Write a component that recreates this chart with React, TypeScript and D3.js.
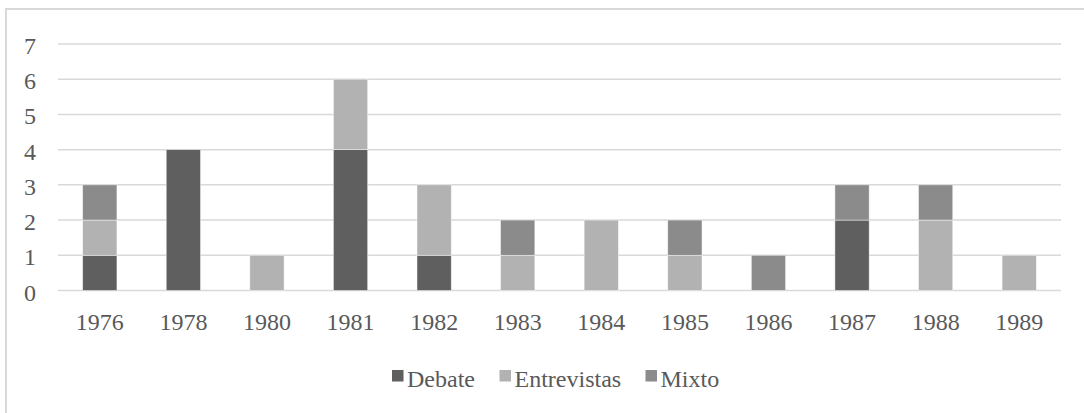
import React from "react";
import * as d3 from "d3";

const categories = ["1976", "1978", "1980", "1981", "1982", "1983", "1984", "1985", "1986", "1987", "1988", "1989"];
const debate = [1, 4, 0, 4, 1, 0, 0, 0, 0, 2, 0, 0];
const entrevistas = [1, 0, 1, 2, 2, 1, 2, 1, 0, 0, 2, 1];
const mixto = [1, 0, 0, 0, 0, 1, 0, 1, 1, 1, 1, 0];
const seriesNames = ["Debate", "Entrevistas", "Mixto"];
const seriesColors = ["#5f5f5f", "#b2b2b2", "#8b8b8b"];
const yTicks = [0, 1, 2, 3, 4, 5, 6, 7];

const W = 1084;
const H = 413;
const left = 58;
const right = 1061;
const yTop = 44;
const yBottom = 290.5;
const font = "'Liberation Serif', 'Times New Roman', serif";
const textColor = "#595959";

export default function App() {
  const x = d3.scaleBand<string>().domain(categories).range([left, right]).paddingInner(0.59).paddingOuter(0.295);
  const y = d3.scaleLinear().domain([0, 7]).range([yBottom, yTop]);
  const rows = categories.map((c, i) => ({ cat: c, Debate: debate[i], Entrevistas: entrevistas[i], Mixto: mixto[i] }));
  const stack = d3.stack<any>().keys(seriesNames)(rows);

  const legendItems = [
    { name: "Debate", x: 392 },
    { name: "Entrevistas", x: 499.5 },
    { name: "Mixto", x: 645.5 },
  ];
  const ts = { fontFamily: font, fontSize: "24px", fill: textColor } as React.CSSProperties;

  return (
    <svg width={W} height={H} style={{ position: "absolute", left: 0, top: 0, background: "#fff" }}>
      <rect x={6} y={9} width={1100} height={420} fill="#fff" stroke="#d9d9d9" strokeWidth={2} />
      {yTicks.map((t) => (
        <g key={t}>
          <line x1={left} x2={right} y1={y(t)} y2={y(t)} stroke="#d9d9d9" strokeWidth={1.5} />
          <text x={36} y={y(t) + 10} textAnchor="end" style={ts}>
            {t}
          </text>
        </g>
      ))}
      {stack.map((s, si) => (
        <g key={s.key} fill={seriesColors[si]}>
          {s.map((d, i) =>
            d[1] - d[0] > 0 ? (
              <rect
                key={i}
                x={x(categories[i])!}
                width={x.bandwidth()}
                y={y(d[1])}
                height={y(d[0]) - y(d[1])}
                stroke="#ffffff"
                strokeOpacity={0.6}
                strokeWidth={0.75}
              />
            ) : null
          )}
        </g>
      ))}
      {categories.map((c) => (
        <text key={c} x={x(c)! + x.bandwidth() / 2} y={329.5} textAnchor="middle" style={ts}>
          {c}
        </text>
      ))}
      {legendItems.map((l, i) => (
        <g key={l.name}>
          <rect x={l.x} y={370} width={11.5} height={11.5} fill={seriesColors[i]} />
          <text x={l.x + 15} y={386.5} style={ts}>
            {l.name}
          </text>
        </g>
      ))}
    </svg>
  );
}
